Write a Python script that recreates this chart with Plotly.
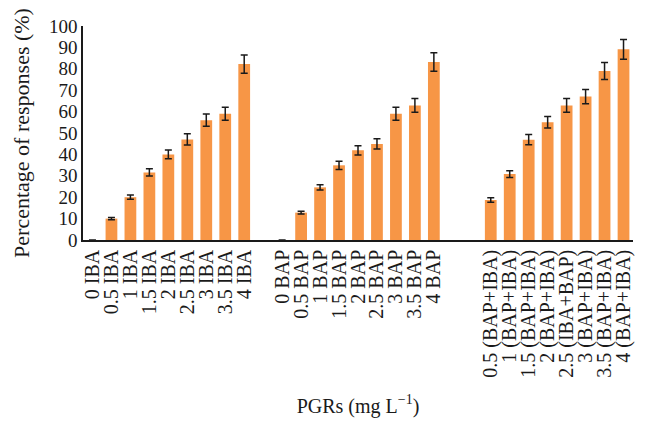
import plotly.graph_objects as go

categories = ["0 IBA", "0.5 IBA", "1 IBA", "1.5 IBA", "2 IBA", "2.5 IBA", "3 IBA", "3.5 IBA", "4 IBA",
              " ",
              "0 BAP", "0.5 BAP", "1 BAP", "1.5 BAP", "2 BAP", "2.5 BAP", "3 BAP", "3.5 BAP", "4 BAP",
              "  ", "   ",
              "0.5 (BAP+IBA)", "1 (BAP+IBA)", "1.5 (BAP+IBA)", "2 (BAP+IBA)", "2.5 (IBA+BAP)",
              "3 (BAP+IBA)", "3.5 (BAP+IBA)", "4 (BAP+IBA)"]

iba_values = [0, 10, 20, 31.6, 40, 47, 56, 59, 82.2]
iba_errors = [None, 0.5, 1, 1.7, 2, 2.6, 2.9, 3, 4.3]
bap_values = [0, 12.8, 24.6, 34.9, 41.9, 44.9, 59, 62.9, 83.2]
bap_errors = [None, 0.6, 1.2, 1.9, 2.2, 2.4, 3, 3.2, 4.3]
mix_values = [18.7, 30.8, 46.9, 55, 62.9, 67, 79, 89.1]
mix_errors = [1.1, 1.6, 2.4, 2.7, 3.2, 3.3, 4, 4.6]

values = iba_values + [None] + bap_values + [None, None] + mix_values
errors = iba_errors + [None] + bap_errors + [None, None] + mix_errors

font_family = "Liberation Serif, DejaVu Serif, serif"

fig = go.Figure(go.Bar(
    x=categories, y=values,
    marker=dict(color="#F79646", line=dict(width=0)),
    error_y=dict(type="data", array=errors, visible=True, color="#1a1a1a", thickness=1.5, width=3.5),
))

fig.update_layout(
    width=648, height=432,
    margin=dict(l=75, r=23, t=18, b=200),
    paper_bgcolor="white", plot_bgcolor="white",
    bargap=0.38,
    showlegend=False,
    font=dict(family=font_family, size=20, color="#1a1a1a"),
)
fig.update_xaxes(
    type="category", categoryorder="array", categoryarray=categories,
    tickmode="linear", tick0=0, dtick=1, automargin=False,
    tickangle=-90, showline=True, linecolor="#1a1a1a", linewidth=1.5,
    ticks="", showgrid=False, tickfont=dict(size=20),
    title=dict(text="PGRs (mg L<sup>−1</sup>)", font=dict(size=20), standoff=22),
)
fig.update_yaxes(
    range=[0, 100], dtick=10, showline=True, linecolor="#1a1a1a", linewidth=1.5,
    ticks="", showgrid=False, zeroline=False, tickfont=dict(size=19), automargin=False,
    title=dict(text="Percentage of responses (%)", font=dict(size=22), standoff=13),
)

fig.write_html("out.html")
